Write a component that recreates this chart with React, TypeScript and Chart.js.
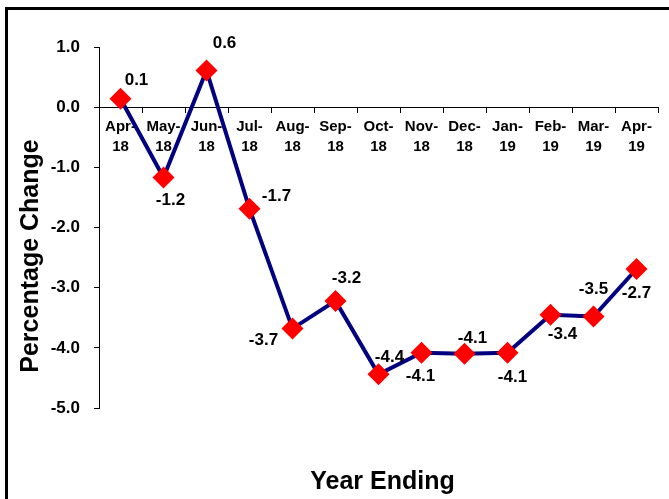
import React, { useEffect, useRef } from "react";
import { Chart, registerables } from "chart.js";

Chart.register(...registerables);

const categories: string[][] = [
  ["Apr-", "18"], ["May-", "18"], ["Jun-", "18"], ["Jul-", "18"], ["Aug-", "18"],
  ["Sep-", "18"], ["Oct-", "18"], ["Nov-", "18"], ["Dec-", "18"], ["Jan-", "19"],
  ["Feb-", "19"], ["Mar-", "19"], ["Apr-", "19"],
];
const values: number[] = [0.14, -1.17, 0.61, -1.69, -3.68, -3.22, -4.44, -4.08, -4.1, -4.08, -3.45, -3.48, -2.69];
const valueLabels: string[] = ["0.1", "-1.2", "0.6", "-1.7", "-3.7", "-3.2", "-4.4", "-4.1", "-4.1", "-4.1", "-3.4", "-3.5", "-2.7"];
const yMin = -5;
const yMax = 1;
const yStep = 1;
const yTitle = "Percentage Change";
const xTitle = "Year Ending";

// label placement relative to each point (dx, dy)
const labelOffsets: [number, number][] = [
  [16, -18], [7, 23], [18, -27], [27, -13], [-29, 12], [11, -23], [11, -17],
  [-1, 24], [8, -16], [5, 25], [12, 20], [0, -27], [0, 24],
];

const FONT = "'Liberation Sans', Arial, Helvetica, sans-serif";

const framePlugin = {
  id: "frame",
  beforeDraw(chart: any) {
    const ctx = chart.ctx;
    ctx.save();
    ctx.fillStyle = "#ffffff";
    ctx.fillRect(0, 0, chart.width, chart.height);
    ctx.fillStyle = "#000000";
    ctx.fillRect(5, 7, chart.width - 5, 3);
    ctx.fillRect(5, 7, 3, chart.height - 7);
    ctx.restore();
  },
};

const labelsPlugin = {
  id: "valueLabels",
  afterDatasetsDraw(chart: any) {
    const ctx = chart.ctx;
    const meta = chart.getDatasetMeta(0);
    ctx.save();
    ctx.font = `bold 17px ${FONT}`;
    ctx.fillStyle = "#000000";
    ctx.textAlign = "center";
    ctx.textBaseline = "middle";
    meta.data.forEach((pt: any, i: number) => {
      const [dx, dy] = labelOffsets[i];
      ctx.fillText(valueLabels[i], pt.x + dx, pt.y + dy);
    });
    ctx.restore();
  },
};

const titlesPlugin = {
  id: "axisTitles",
  afterDraw(chart: any) {
    const ctx = chart.ctx;
    const area = chart.chartArea;
    ctx.save();
    ctx.fillStyle = "#000000";
    ctx.font = `bold 25px ${FONT}`;
    ctx.textAlign = "center";
    ctx.textBaseline = "alphabetic";
    ctx.fillText(xTitle, (area.left + area.right) / 2 + 4, 489);
    ctx.translate(38, 256);
    ctx.rotate(-Math.PI / 2);
    ctx.fillText(yTitle, 0, 0);
    ctx.restore();
  },
};

export default function App() {
  const ref = useRef<HTMLCanvasElement>(null);
  useEffect(() => {
    if (!ref.current) return;
    const chart = new Chart(ref.current, {
      type: "line",
      data: {
        labels: categories,
        datasets: [
          {
            data: values,
            borderColor: "#000080",
            borderWidth: 4,
            tension: 0,
            pointStyle: "rectRot",
            pointRadius: 11,
            pointHoverRadius: 11,
            pointBackgroundColor: "#ff0000",
            pointBorderColor: "#ff0000",
            pointBorderWidth: 0,
          },
        ],
      },
      options: {
        responsive: false,
        animation: false,
        devicePixelRatio: 1,
        layout: { padding: { left: 0, top: 47, right: 7, bottom: 91 } },
        plugins: { legend: { display: false }, tooltip: { enabled: false } },
        scales: {
          x: {
            type: "category",
            position: { y: 0 } as any,
            offset: true,
            grid: {
              offset: true,
              drawOnChartArea: false,
              drawTicks: true,
              tickLength: 5,
              color: "#000000",
            },
            border: { display: true, color: "#000000", width: 1 },
            ticks: {
              color: "#000000",
              padding: 5,
              maxRotation: 0,
              autoSkip: false,
              font: { family: FONT, size: 15, weight: "bold", lineHeight: 1.33 },
            },
          },
          y: {
            min: yMin,
            max: yMax,
            afterFit(scale: any) {
              scale.width = 99;
            },
            grid: {
              drawOnChartArea: false,
              drawTicks: true,
              tickLength: 5,
              color: "#000000",
            },
            border: { display: true, color: "#000000", width: 1 },
            ticks: {
              stepSize: yStep,
              color: "#000000",
              padding: 14,
              font: { family: FONT, size: 17, weight: "bold" },
              callback: (v: any) => Number(v).toFixed(1),
            },
          },
        },
      },
      plugins: [framePlugin, labelsPlugin, titlesPlugin],
    });
    return () => chart.destroy();
  }, []);
  return (
    <canvas
      ref={ref}
      width={669}
      height={499}
      style={{ position: "fixed", left: 0, top: 0, width: 669, height: 499 }}
    />
  );
}
